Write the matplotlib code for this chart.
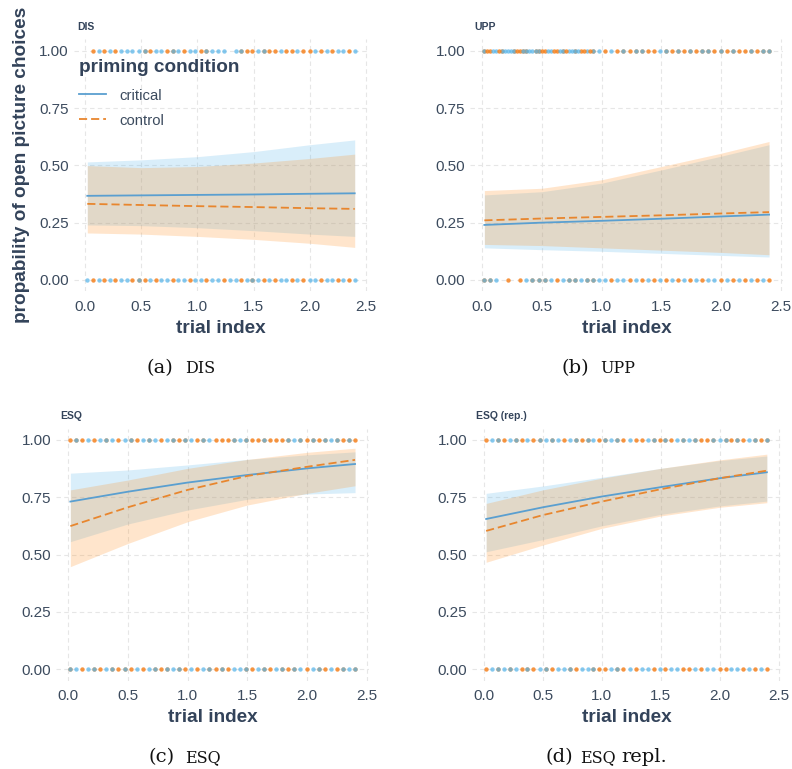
import matplotlib
matplotlib.use("Agg")
import matplotlib.pyplot as plt
from matplotlib.lines import Line2D

# ---------------- data ----------------
X_FIT = [0.02, 0.5, 1.0, 1.5, 2.0, 2.4]

DIS_CRIT_FIT = [0.367, 0.369, 0.371, 0.373, 0.376, 0.378]
DIS_CRIT_LO = [0.240, 0.237, 0.228, 0.215, 0.200, 0.190]
DIS_CRIT_HI = [0.515, 0.524, 0.538, 0.560, 0.590, 0.611]
DIS_CTRL_FIT = [0.332, 0.327, 0.322, 0.318, 0.313, 0.310]
DIS_CTRL_LO = [0.205, 0.200, 0.190, 0.177, 0.160, 0.142]
DIS_CTRL_HI = [0.499, 0.490, 0.495, 0.510, 0.530, 0.549]

UPP_CRIT_FIT = [0.240, 0.250, 0.258, 0.267, 0.277, 0.285]
UPP_CRIT_LO = [0.140, 0.132, 0.125, 0.116, 0.107, 0.100]
UPP_CRIT_HI = [0.371, 0.385, 0.422, 0.480, 0.540, 0.590]
UPP_CTRL_FIT = [0.260, 0.268, 0.275, 0.282, 0.290, 0.296]
UPP_CTRL_LO = [0.155, 0.150, 0.140, 0.130, 0.120, 0.110]
UPP_CTRL_HI = [0.390, 0.400, 0.437, 0.495, 0.553, 0.604]

ESQ_CRIT_FIT = [0.731, 0.774, 0.814, 0.847, 0.876, 0.895]
ESQ_CRIT_LO = [0.556, 0.633, 0.694, 0.741, 0.764, 0.770]
ESQ_CRIT_HI = [0.855, 0.869, 0.891, 0.915, 0.935, 0.948]
ESQ_CTRL_FIT = [0.624, 0.706, 0.782, 0.843, 0.883, 0.913]
ESQ_CTRL_LO = [0.447, 0.548, 0.643, 0.716, 0.767, 0.800]
ESQ_CTRL_HI = [0.782, 0.825, 0.876, 0.915, 0.946, 0.964]

REP_CRIT_FIT = [0.655, 0.706, 0.753, 0.794, 0.833, 0.859]
REP_CRIT_LO = [0.512, 0.565, 0.625, 0.675, 0.712, 0.733]
REP_CRIT_HI = [0.767, 0.799, 0.837, 0.876, 0.910, 0.930]
REP_CTRL_FIT = [0.603, 0.672, 0.731, 0.785, 0.833, 0.866]
REP_CTRL_LO = [0.466, 0.541, 0.614, 0.668, 0.706, 0.726]
REP_CTRL_HI = [0.723, 0.782, 0.833, 0.876, 0.913, 0.938]

# observed trial indices (x of the raw 0/1 responses)
TRIALS = [0.02, 0.07, 0.12, 0.17, 0.22, 0.27, 0.32, 0.37, 0.42, 0.48, 0.53, 0.58,
          0.63, 0.68, 0.73, 0.78, 0.83, 0.88, 0.93, 0.98, 1.03, 1.08, 1.13, 1.18,
          1.24, 1.29, 1.34, 1.39, 1.44, 1.49, 1.54, 1.59, 1.64, 1.69, 1.74, 1.79,
          1.84, 1.89, 1.94, 2.00, 2.05, 2.10, 2.15, 2.20, 2.25, 2.30, 2.35, 2.40]
TRIALS_EXTRA_UPP = [0.045, 0.095, 0.145, 0.195, 0.245, 0.295, 0.345, 0.395, 0.45,
                    0.505, 0.555, 0.605, 0.655, 0.705, 0.755, 0.805, 0.855, 0.905]

# response codes per trial: b = critical, o = control, g = both, . = none
DIS_TOP = ".obobobbbbgobbogbobbogbbb.bgoobgoobooboobobobbob"
DIS_BOT = "bobobobbogobobbobbobbobbobbobgbobobbobobbobbobob"
UPP_TOP = "gobgbgogbgobogbgobgbobogoggoobgogogoggogogoogogg"
UPP_TOP_EXTRA = "obobbogbgobobobboo"
UPP_BOT = "ggb.o.obgggbobggbggbbobbobobobobobobobbobobobobo"
ESQ_TOP = "ogobobgbobgobgbobgogbogbooogbgoogooogbgogogbgogo"
ESQ_BOT = "gbobgobgogobobgogbgobobgogobbgobgobgogbobgobogbg"
REP_TOP = "obgobgobogbgbobgogbogbgoboobgogobgbgoogbgogobgog"
REP_BOT = "obgbgbogobgobbgobbgoobgobobbobobboobobboobbobobo"

CONDITIONS = ["critical", "control"]
PANEL_TITLES = ["DIS", "UPP", "ESQ", "ESQ (rep.)"]
X_TICKS = [0.0, 0.5, 1.0, 1.5, 2.0, 2.5]
Y_TICKS = [0.0, 0.25, 0.5, 0.75, 1.0]

# ---------------- style ----------------
BLUE_FILL = "#56B4E9"
ORANGE_FILL = "#FF8C1A"
BLUE_LINE = "#5A9FD0"
ORANGE_LINE = "#E8862E"
BLUE_PT = "#56B4E9"
ORANGE_PT = "#F5821F"
TXT = "#3C4B5E"
TXT_DARK = "#33435A"
SANS = "Liberation Sans"
SERIF = "DejaVu Serif"

plt.rcParams["font.family"] = SANS

W, H = 792, 769
fig = plt.figure(figsize=(W / 100, H / 100), dpi=100)


def px_axes(l, t, r, b):
    return fig.add_axes([l / W, 1 - b / H, (r - l) / W, (b - t) / H])


axes = [
    px_axes(73.8, 39.3, 368.2, 291.4),
    px_axes(470.0, 39.3, 783.4, 291.4),
    px_axes(56.0, 428.5, 369.4, 680.5),
    px_axes(472.0, 428.5, 781.0, 680.5),
]

fits = [
    (DIS_CRIT_FIT, DIS_CRIT_LO, DIS_CRIT_HI, DIS_CTRL_FIT, DIS_CTRL_LO, DIS_CTRL_HI),
    (UPP_CRIT_FIT, UPP_CRIT_LO, UPP_CRIT_HI, UPP_CTRL_FIT, UPP_CTRL_LO, UPP_CTRL_HI),
    (ESQ_CRIT_FIT, ESQ_CRIT_LO, ESQ_CRIT_HI, ESQ_CTRL_FIT, ESQ_CTRL_LO, ESQ_CTRL_HI),
    (REP_CRIT_FIT, REP_CRIT_LO, REP_CRIT_HI, REP_CTRL_FIT, REP_CTRL_LO, REP_CTRL_HI),
]
rows = [
    [(TRIALS, DIS_TOP, 1.0), (TRIALS, DIS_BOT, 0.0)],
    [(TRIALS, UPP_TOP, 1.0), (TRIALS_EXTRA_UPP, UPP_TOP_EXTRA, 1.0), (TRIALS, UPP_BOT, 0.0)],
    [(TRIALS, ESQ_TOP, 1.0), (TRIALS, ESQ_BOT, 0.0)],
    [(TRIALS, REP_TOP, 1.0), (TRIALS, REP_BOT, 0.0)],
]

DASH = (0, (4.5, 2.2))

for ax, title, fit, prow in zip(axes, PANEL_TITLES, fits, rows):
    cf, clo, chi, of, olo, ohi = fit
    ax.set_xlim(-0.1, 2.52)
    ax.set_ylim(-0.05, 1.05)
    ax.set_xticks(X_TICKS)
    ax.set_yticks(Y_TICKS)
    ax.set_xticklabels([f"{v:.1f}" for v in X_TICKS])
    ax.set_yticklabels([f"{v:.2f}" for v in Y_TICKS])
    for s in ax.spines.values():
        s.set_visible(False)
    ax.grid(True, color="#E6E6E6", linestyle=(0, (4, 3)), linewidth=0.8)
    ax.set_axisbelow(True)
    ax.tick_params(length=0, labelsize=11, colors=TXT)
    ax.tick_params(axis="x", pad=6)
    ax.tick_params(axis="y", pad=3.5)

    # raw responses
    for xs, codes, yv in prow:
        ox = [x for x, c in zip(xs, codes) if c in "og"]
        bx = [x for x, c in zip(xs, codes) if c in "bg"]
        ax.scatter(ox, [yv] * len(ox), s=10, color=ORANGE_PT, alpha=0.85, lw=0, zorder=2)
        ax.scatter(bx, [yv] * len(bx), s=10, color=BLUE_PT, alpha=0.72, lw=0, zorder=2)

    ax.fill_between(X_FIT, clo, chi, color=BLUE_FILL, alpha=0.22, lw=0, zorder=3)
    ax.fill_between(X_FIT, olo, ohi, color=ORANGE_FILL, alpha=0.22, lw=0, zorder=3)
    ax.plot(X_FIT, cf, color=BLUE_LINE, lw=1.3, zorder=4)
    ax.plot(X_FIT, of, color=ORANGE_LINE, lw=1.3, linestyle=DASH, zorder=4)

    ax.set_title(title, loc="left", x=0.013, fontsize=7.5, fontweight="bold",
                 color=TXT_DARK, pad=6.7)
    ax.set_xlabel("trial index", fontsize=13.7, fontweight="bold", color=TXT_DARK,
                  labelpad=4.5)

axes[0].set_ylabel("propability of open picture choices", fontsize=13.7,
                   fontweight="bold", color=TXT_DARK, labelpad=7)

handles = [Line2D([], [], color=BLUE_LINE, lw=1.3),
           Line2D([], [], color=ORANGE_LINE, lw=1.3, linestyle=DASH)]
leg = axes[0].legend(handles, CONDITIONS, title="priming condition",
                     loc="upper left", bbox_to_anchor=(79 / W, 1 - 59 / H),
                     bbox_transform=fig.transFigure, frameon=False, borderpad=0,
                     borderaxespad=0, handlelength=1.85, handletextpad=0.85,
                     labelspacing=0.75, fontsize=10.7, alignment="left",
                     title_fontproperties={"weight": "bold", "size": 13.7})
leg._legend_box.sep = 9
leg.get_title().set_color(TXT_DARK)
for t in leg.get_texts():
    t.set_color(TXT)
leg.set_zorder(10)

# captions (subfigure labels)
captions = [
    (173, 373, "(a)", [(185, "DIS", 11.5)]),
    (589, 373, "(b)", [(600, "UPP", 11.5)]),
    (175, 762, "(c)", [(185, "ESQ", 11.5)]),
    (573, 762, "(d)", [(580, "ESQ", 11.5), (621, "repl.", 14)]),
]
for xr, yb, lab, parts in captions:
    fig.text(xr / W, 1 - yb / H, lab, ha="right", va="baseline", fontsize=14,
             family=SERIF, color="#111111")
    for xl, txt, fs in parts:
        fig.text(xl / W, 1 - yb / H, txt, ha="left", va="baseline", fontsize=fs,
                 family=SERIF, color="#111111")

fig.savefig("out.png", dpi=100)
